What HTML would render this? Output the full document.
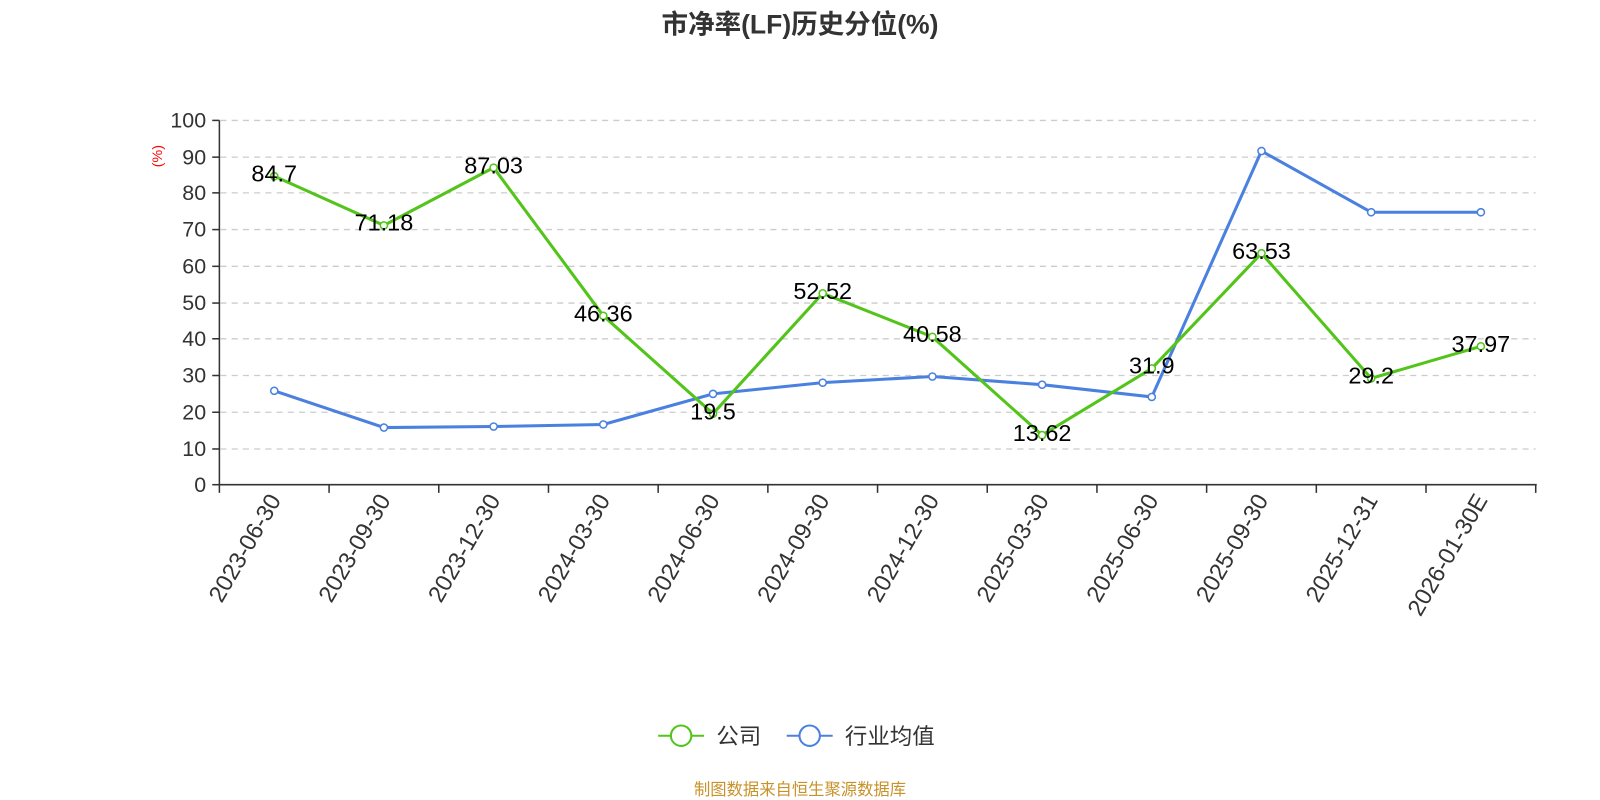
<!DOCTYPE html>
<html><head><meta charset="utf-8"><style>
body{margin:0;background:#fff}
svg{display:block;font-family:"Liberation Sans","Noto Sans CJK SC",sans-serif}
</style></head><body>
<svg width="1600" height="800" viewBox="0 0 1568 784">
<text x="784" y="33" text-anchor="middle" font-size="26" font-weight="bold" fill="#333">市净率(LF)历史分位(%)</text>
<g stroke="#ccc" stroke-dasharray="6,5" stroke-width="1.3">
<line x1="216" x2="1505" y1="118" y2="118"/><line x1="216" x2="1505" y1="154" y2="154"/>
<line x1="216" x2="1505" y1="189" y2="189"/><line x1="216" x2="1505" y1="225" y2="225"/>
<line x1="216" x2="1505" y1="261" y2="261"/><line x1="216" x2="1505" y1="297" y2="297"/>
<line x1="216" x2="1505" y1="332" y2="332"/><line x1="216" x2="1505" y1="368" y2="368"/>
<line x1="216" x2="1505" y1="404" y2="404"/><line x1="216" x2="1505" y1="440" y2="440"/>
</g>
<g stroke="#333" stroke-width="1.5">
<line x1="215" y1="118" x2="215" y2="475"/>
<line x1="215" y1="475" x2="1506" y2="475"/>
<line x1="208" x2="215" y1="118" y2="118"/><line x1="208" x2="215" y1="154" y2="154"/>
<line x1="208" x2="215" y1="189" y2="189"/><line x1="208" x2="215" y1="225" y2="225"/>
<line x1="208" x2="215" y1="261" y2="261"/><line x1="208" x2="215" y1="297" y2="297"/>
<line x1="208" x2="215" y1="332" y2="332"/><line x1="208" x2="215" y1="368" y2="368"/>
<line x1="208" x2="215" y1="404" y2="404"/><line x1="208" x2="215" y1="440" y2="440"/>
<line x1="208" x2="215" y1="475" y2="475"/>
<line x1="215" x2="215" y1="475" y2="483"/><line x1="322.5" x2="322.5" y1="475" y2="483"/>
<line x1="430" x2="430" y1="475" y2="483"/><line x1="537.5" x2="537.5" y1="475" y2="483"/>
<line x1="645" x2="645" y1="475" y2="483"/><line x1="752.5" x2="752.5" y1="475" y2="483"/>
<line x1="860" x2="860" y1="475" y2="483"/><line x1="967.5" x2="967.5" y1="475" y2="483"/>
<line x1="1075" x2="1075" y1="475" y2="483"/><line x1="1182.5" x2="1182.5" y1="475" y2="483"/>
<line x1="1290" x2="1290" y1="475" y2="483"/><line x1="1397.5" x2="1397.5" y1="475" y2="483"/>
<line x1="1505" x2="1505" y1="475" y2="483"/>
</g>
<g font-size="21" fill="#333" text-anchor="end">
<text x="202" y="125">100</text><text x="202" y="161">90</text><text x="202" y="196">80</text>
<text x="202" y="232">70</text><text x="202" y="268">60</text><text x="202" y="304">50</text>
<text x="202" y="339">40</text><text x="202" y="375">30</text><text x="202" y="411">20</text>
<text x="202" y="447">10</text><text x="202" y="482">0</text>
</g>
<text x="159" y="153" font-size="14" fill="red" text-anchor="middle" transform="rotate(-90 159 153)">(%)</text>
<g font-size="23" fill="#333" text-anchor="end">
<text transform="translate(276,490) rotate(-60)">2023-06-30</text>
<text transform="translate(383.5,490) rotate(-60)">2023-09-30</text>
<text transform="translate(491,490) rotate(-60)">2023-12-30</text>
<text transform="translate(598.5,490) rotate(-60)">2024-03-30</text>
<text transform="translate(706,490) rotate(-60)">2024-06-30</text>
<text transform="translate(813.5,490) rotate(-60)">2024-09-30</text>
<text transform="translate(921,490) rotate(-60)">2024-12-30</text>
<text transform="translate(1028.5,490) rotate(-60)">2025-03-30</text>
<text transform="translate(1136,490) rotate(-60)">2025-06-30</text>
<text transform="translate(1243.5,490) rotate(-60)">2025-09-30</text>
<text transform="translate(1351,490) rotate(-60)">2025-12-31</text>
<text transform="translate(1458.5,490) rotate(-60)">2026-01-30E</text>
</g>
<polyline fill="none" stroke="#4a80e0" stroke-width="3" points="268.75,383 376.25,419 483.75,418 591.25,416 698.75,386 806.25,375 913.75,369 1021.25,377 1128.75,389 1236.25,148 1343.75,208 1451.25,208"/>
<g fill="#fff" stroke="#4a80e0" stroke-width="1.5">
<circle cx="268.75" cy="383" r="3.5"/><circle cx="376.25" cy="419" r="3.5"/><circle cx="483.75" cy="418" r="3.5"/>
<circle cx="591.25" cy="416" r="3.5"/><circle cx="698.75" cy="386" r="3.5"/><circle cx="806.25" cy="375" r="3.5"/>
<circle cx="913.75" cy="369" r="3.5"/><circle cx="1021.25" cy="377" r="3.5"/><circle cx="1128.75" cy="389" r="3.5"/>
<circle cx="1236.25" cy="148" r="3.5"/><circle cx="1343.75" cy="208" r="3.5"/><circle cx="1451.25" cy="208" r="3.5"/>
</g>
<polyline fill="none" stroke="#52c41a" stroke-width="3" points="268.75,172.6 376.25,220.9 483.75,164.3 591.25,309.5 698.75,405.4 806.25,287.5 913.75,330.1 1021.25,426.4 1128.75,361.1 1236.25,248.2 1343.75,370.8 1451.25,339.4"/>
<g fill="#fff" stroke="#52c41a" stroke-width="1.5">
<circle cx="268.75" cy="172.6" r="3.5"/><circle cx="376.25" cy="220.9" r="3.5"/><circle cx="483.75" cy="164.3" r="3.5"/>
<circle cx="591.25" cy="309.5" r="3.5"/><circle cx="698.75" cy="405.4" r="3.5"/><circle cx="806.25" cy="287.5" r="3.5"/>
<circle cx="913.75" cy="330.1" r="3.5"/><circle cx="1021.25" cy="426.4" r="3.5"/><circle cx="1128.75" cy="361.1" r="3.5"/>
<circle cx="1236.25" cy="248.2" r="3.5"/><circle cx="1343.75" cy="370.8" r="3.5"/><circle cx="1451.25" cy="339.4" r="3.5"/>
</g>
<g font-size="23" fill="#000" text-anchor="middle">
<text x="268.75" y="178">84.7</text><text x="376.25" y="226">71.18</text><text x="483.75" y="170">87.03</text>
<text x="591.25" y="315">46.36</text><text x="698.75" y="411">19.5</text><text x="806.25" y="293">52.52</text>
<text x="913.75" y="335">40.58</text><text x="1021.25" y="432">13.62</text><text x="1128.75" y="366">31.9</text>
<text x="1236.25" y="254">63.53</text><text x="1343.75" y="376">29.2</text><text x="1451.25" y="345">37.97</text>
</g>
<line x1="645" y1="721" x2="690" y2="721" stroke="#52c41a" stroke-width="2"/>
<circle cx="667.5" cy="721" r="10" fill="#fff" stroke="#52c41a" stroke-width="2"/>
<text x="702" y="729" font-size="22" fill="#333">公司</text>
<line x1="771" y1="721" x2="816" y2="721" stroke="#4a80e0" stroke-width="2"/>
<circle cx="793.5" cy="721" r="10" fill="#fff" stroke="#4a80e0" stroke-width="2"/>
<text x="828" y="729" font-size="22" fill="#333">行业均值</text>
<text x="784" y="779" font-size="16" fill="#c8922a" text-anchor="middle">制图数据来自恒生聚源数据库</text>
</svg>
</body></html>
